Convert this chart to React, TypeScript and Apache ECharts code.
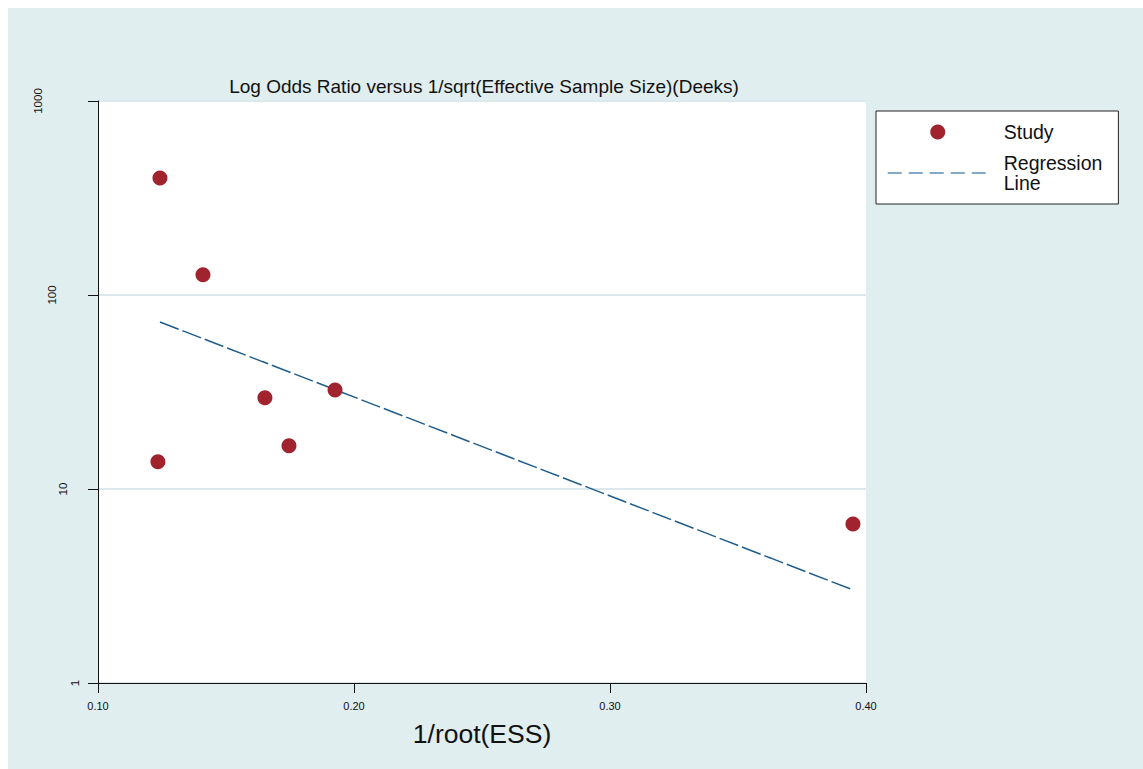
import React, { useEffect, useRef } from "react";
import * as echarts from "echarts";

const studyX = [0.1242, 0.141, 0.1652, 0.1746, 0.1926, 0.1234, 0.3949];
const studyY = [401, 127, 29.5, 16.7, 32.4, 13.8, 6.6];
const regX = [0.1242, 0.3949];
const regY = [72.6, 3.02];
const xTicks = { min: 0.1, max: 0.4, interval: 0.1 };
const yTicks = { min: 1, max: 1000 };

const FONT = "'Liberation Sans', Arial, sans-serif";

export default function App() {
  const ref = useRef<HTMLDivElement>(null);
  useEffect(() => {
    if (!ref.current) return;
    const chart = echarts.init(ref.current, undefined, { renderer: "svg" });
    chart.setOption({
      animation: false,
      backgroundColor: "#e1eeef",
      textStyle: { fontFamily: FONT },
      title: {
        text: "Log Odds Ratio versus 1/sqrt(Effective Sample Size)(Deeks)",
        left: 476,
        top: 69,
        textAlign: "center",
        padding: 0,
        textStyle: { fontFamily: FONT, fontSize: 19, fontWeight: "normal", color: "#111" },
      },
      legend: {
        orient: "vertical",
        left: 868,
        top: 103,
        padding: [11, 16, 11, 11],
        itemGap: 11,
        itemWidth: 100,
        itemHeight: 15,
        backgroundColor: "#fff",
        borderColor: "#222",
        borderWidth: 1,
        borderRadius: 0,
        textStyle: { fontFamily: FONT, fontSize: 19.5, lineHeight: 20, color: "#111", padding: [0, 0, 0, 11] },
        data: [
          { name: "Study", icon: "circle", itemStyle: { color: "#a0232e", opacity: 1 } },
          {
            name: "Regression Line",
            lineStyle: { color: "#5b8db8", type: [14, 7], width: 1.5 },
            itemStyle: { opacity: 0 },
          },
        ],
        formatter: (n: string) => (n === "Regression Line" ? "Regression\nLine" : n),
        selectedMode: false,
      },
      grid: {
        left: 90,
        top: 93,
        width: 768,
        height: 582,
        show: true,
        backgroundColor: "#ffffff",
        borderWidth: 0,
      },
      xAxis: {
        type: "value",
        min: xTicks.min,
        max: xTicks.max,
        interval: xTicks.interval,
        name: "1/root(ESS)",
        nameLocation: "middle",
        nameGap: 37,
        nameTextStyle: { fontFamily: FONT, fontSize: 26.5, color: "#111" },
        axisLine: { lineStyle: { color: "#111", width: 1 } },
        axisTick: { show: true, length: 10, lineStyle: { color: "#111" } },
        axisLabel: {
          margin: 17,
          fontSize: 11,
          color: "#111",
          fontFamily: FONT,
          formatter: (v: number) => v.toFixed(2),
        },
        splitLine: { show: false },
      },
      yAxis: {
        type: "log",
        logBase: 10,
        min: yTicks.min,
        max: yTicks.max,
        axisLine: { show: true, lineStyle: { color: "#111", width: 1 } },
        axisTick: { show: true, length: 10, lineStyle: { color: "#111" } },
        axisLabel: {
          rotate: 90,
          margin: 17,
          fontSize: 11.5,
          color: "#111",
          fontFamily: FONT,
          formatter: (v: number) => {
            const s = String(Math.round(v));
            return `{p${s.length}|${s}}`;
          },
          rich: {
            p1: { fontSize: 11.5, fontFamily: FONT, color: "#111", padding: [0, 0, 0, 0] },
            p2: { fontSize: 11.5, fontFamily: FONT, color: "#111", padding: [0, 0, 12, 0] },
            p3: { fontSize: 11.5, fontFamily: FONT, color: "#111", padding: [0, 0, 23, 0] },
            p4: { fontSize: 11.5, fontFamily: FONT, color: "#111", padding: [0, 0, 37, 0] },
          },
        },
        splitLine: { show: true, lineStyle: { color: "#dbe8ec", width: 2 } },
      },
      series: [
        {
          name: "Regression Line",
          type: "line",
          data: regX.map((x, i) => [x, regY[i]]),
          showSymbol: false,
          symbol: "none",
          lineStyle: { color: "#1f5d8c", width: 1.5, type: [20, 4] },
          z: 2,
        },
        {
          name: "Study",
          type: "scatter",
          data: studyX.map((x, i) => [x, studyY[i]]),
          symbol: "circle",
          symbolSize: 15,
          itemStyle: { color: "#a0232e", opacity: 1 },
          z: 3,
        },
      ],
    });
    return () => chart.dispose();
  }, []);
  return (
    <div
      ref={ref}
      style={{ position: "fixed", left: 8, top: 8, width: 1135, height: 761 }}
    />
  );
}
